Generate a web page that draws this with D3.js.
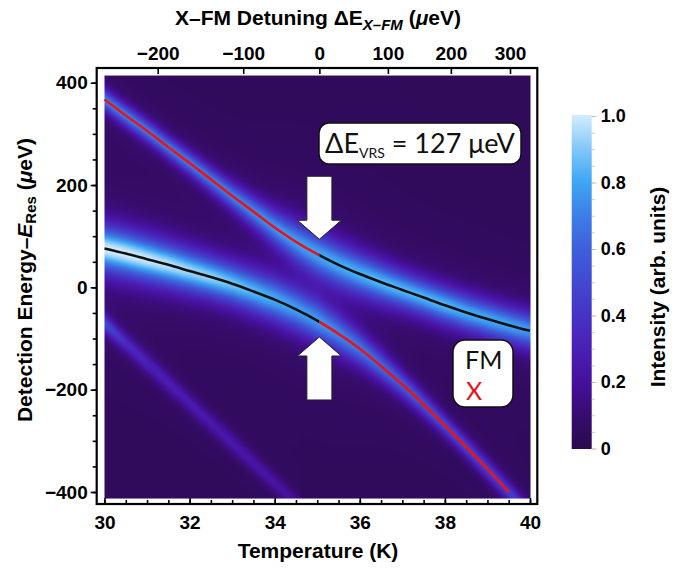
<!DOCTYPE html>
<html><head><meta charset="utf-8">
<script src="https://cdn.jsdelivr.net/npm/d3@7"></script>
<style>body{margin:0;background:#fff} svg{display:block}</style>
</head><body>
<svg id="chart" width="680" height="576"></svg>
<script>
// ---------------- data ----------------
const temps = [30,30.5,31,31.5,32,32.5,33,33.5,34,34.5,35,35.5,36,36.5,37,37.5,38,38.5,39,39.5,40];
const upperBranch = [367,336,306,274,243,211,179,148,117,89,65,44,26,10,-5,-20,-35,-49,-62,-74,-85];
const lowerBranch = [76,66,55,44,32,20,7,-8,-24,-43,-65,-91,-120,-154,-190,-229,-270,-312,-355,-400,-446];
const upperIntensity = [0.66,0.66,0.65,0.65,0.65,0.65,0.66,0.68,0.7,0.72,0.74,0.76,0.78,0.8,0.8,0.8,0.8,0.78,0.77,0.75,0.73];
const upperWidth = [18,18,18,18,19,20,22,25,29,34,37,37,35,33,31,30,30,30,30,30,30];
const lowerIntensity = [0.96,0.96,0.95,0.93,0.9,0.88,0.84,0.8,0.76,0.72,0.7,0.66,0.62,0.58,0.54,0.5,0.47,0.44,0.42,0.4,0.38];
const lowerWidth = [38,38,37,36,35,34,34,35,36,36,35,32,28,25,22,20,18,18,18,18,18];
const replicaTemps = [30,30.5,31,32,33,34,34.6];
const replicaEnergy = [-70,-109,-148,-226,-304,-382,-430];
const replicaIntensity = [0.45,0.3,0.25,0.22,0.21,0.18,0.16];
const replicaWidth = [16,17,18,18,18,18,18];
const lineEndTemp = 39.5;       // red lower line stops here
const crossTemp = 35.05;        // colour change (X <-> FM character)
const bottomTicks = [30,32,34,36,38,40];
const leftTicks = [-400,-200,0,200,400];
const detuningTicks = [-200,-100,0,100,200,300];
const detuningTickTemps = [31.25,33.26,35.05,36.66,38.14,39.53];
const colorbarTicks = [0,0.2,0.4,0.6,0.8,1.0];
const colorStopPos = [0,0.1,0.2,0.3,0.4,0.5,0.6,0.7,0.8,0.9,1.0];
const colorStopCol = ["#2a0a4c","#370c6e","#46109c","#4a1fb4","#4633c4","#4149d0","#3e60da","#3e7ee8","#3ea6f4","#82c8f8","#d4ecfc"];
const gapLabel = "127";
const arrowTips = [94,-97];

// ---------------- layout ----------------
const svg = d3.select("#chart");
const x = d3.scaleLinear().domain([30,40]).range([104.5,530]);
const y = d3.scaleLinear().domain([-400,400]).range([492,82.7]);
const frame = {x0:96.7, x1:537.3, y0:68, y1:504};
const heatE = [-412,414];
const font = "'Liberation Sans', Arial, sans-serif";

const cmap = d3.scaleLinear().domain(colorStopPos).range(colorStopCol).interpolate(d3.interpolateRgb).clamp(true);

// ---------------- heatmap ----------------
const uE = d3.scaleLinear().domain(temps).range(upperBranch);
const lE = d3.scaleLinear().domain(temps).range(lowerBranch);
const uA = d3.scaleLinear().domain(temps).range(upperIntensity);
const lA = d3.scaleLinear().domain(temps).range(lowerIntensity);
const uW = d3.scaleLinear().domain(temps).range(upperWidth);
const lW = d3.scaleLinear().domain(temps).range(lowerWidth);
const rE = d3.scaleLinear().domain(replicaTemps).range(replicaEnergy);
const rA = d3.scaleLinear().domain(replicaTemps).range(replicaIntensity);
const rW = d3.scaleLinear().domain(replicaTemps).range(replicaWidth);
function prof(u){ return 0.55*Math.exp(-0.693*u*u) + 0.45/(1+u*u); }

const hx0 = x(30), hx1 = x(40), hy0 = y(heatE[1]), hy1 = y(heatE[0]);
const W = Math.round(hx1-hx0), H = Math.round(hy1-hy0);
const cv = document.createElement("canvas"); cv.width = W; cv.height = H;
const ctx = cv.getContext("2d");
const img = ctx.createImageData(W,H);
for(let i=0;i<W;i++){
  const T = x.invert(hx0+i+0.5);
  const e1=uE(T), a1=uA(T), w1=uW(T), e2=lE(T), a2=lA(T), w2=lW(T);
  const hasR = T<=replicaTemps[replicaTemps.length-1];
  const e3=rE(T), a3=rA(T), w3=rW(T);
  for(let j=0;j<H;j++){
    const E = y.invert(hy0+j+0.5);
    let v = 0.04 + a1*prof((E-e1)/w1) + a2*prof((E-e2)/w2);
    if(hasR) v += a3*prof((E-e3)/w3);
    const c = d3.rgb(cmap(Math.min(1,v)));
    const k = (j*W+i)*4;
    img.data[k]=c.r; img.data[k+1]=c.g; img.data[k+2]=c.b; img.data[k+3]=255;
  }
}
ctx.putImageData(img,0,0);
svg.append("image").attr("x",hx0).attr("y",hy0).attr("width",W).attr("height",H)
  .attr("preserveAspectRatio","none").attr("href",cv.toDataURL());

// ---------------- lines ----------------
const defs = svg.append("defs");
defs.append("clipPath").attr("id","clipL").append("rect")
  .attr("x",0).attr("y",0).attr("width",x(crossTemp)).attr("height",576);
defs.append("clipPath").attr("id","clipR").append("rect")
  .attr("x",x(crossTemp)).attr("y",0).attr("width",680).attr("height",576);
const line = d3.line().x(d=>x(d[0])).y(d=>y(d[1])).curve(d3.curveCatmullRom);
const upPts = temps.map((t,i)=>[t,upperBranch[i]]);
const loPts = temps.map((t,i)=>[t,lowerBranch[i]]).filter(d=>d[0]<=lineEndTemp);
const lines = [
  {pts:upPts, clip:"clipL", col:"#e8141c"},
  {pts:upPts, clip:"clipR", col:"#111"},
  {pts:loPts, clip:"clipL", col:"#111"},
  {pts:loPts, clip:"clipR", col:"#e8141c"}
];
svg.selectAll("path.branch").data(lines).join("path").attr("class","branch")
  .attr("d",d=>line(d.pts)).attr("clip-path",d=>`url(#${d.clip})`)
  .attr("fill","none").attr("stroke",d=>d.col).attr("stroke-width",2.6);

// ---------------- arrows ----------------
function arrowPath(cx, tipY, dir){ // dir=+1 points down, -1 up
  const hw=22, sw=12.5, hh=19, sl=44;
  const b = tipY - dir*hh, e = b - dir*sl;
  return `M${cx},${tipY}L${cx+hw},${b}L${cx+sw},${b}L${cx+sw},${e}L${cx-sw},${e}L${cx-sw},${b}L${cx-hw},${b}Z`;
}
svg.append("path").attr("d",arrowPath(x(crossTemp), y(arrowTips[0]), 1))
  .attr("fill","#fff").attr("stroke","#222").attr("stroke-width",1);
svg.append("path").attr("d",arrowPath(x(crossTemp), y(arrowTips[1]), -1))
  .attr("fill","#fff").attr("stroke","#222").attr("stroke-width",1);

// ---------------- annotation boxes ----------------
const lab = svg.append("g").attr("font-family","Lato, 'Open Sans', sans-serif");
lab.append("rect").attr("x",319).attr("y",123).attr("width",202).attr("height",41).attr("rx",10)
  .attr("fill","#fff").attr("stroke","#111").attr("stroke-width",1.5);
const t1 = lab.append("text").attr("x",420).attr("y",153).attr("text-anchor","middle")
  .attr("font-size",27).attr("fill","#111");
t1.append("tspan").text("ΔE");
t1.append("tspan").attr("font-size",14).attr("dy",5).text("VRS");
t1.append("tspan").attr("dy",-5).text(` = ${gapLabel} μeV`);

lab.append("rect").attr("x",453).attr("y",340).attr("width",60).attr("height",67).attr("rx",12)
  .attr("fill","#fff").attr("stroke","#111").attr("stroke-width",1.5);
lab.append("text").attr("x",465).attr("y",369).attr("font-size",25).attr("fill","#111").text("FM");
lab.append("text").attr("x",466).attr("y",400).attr("font-size",25).attr("fill","#e8141c").text("X");

// ---------------- axes ----------------
function styleAxis(g, fs){
  g.select(".domain").remove();
  g.selectAll("line").attr("stroke","#000").attr("stroke-width",1.6);
  g.selectAll("text").attr("font-family",font).attr("font-weight","bold").attr("font-size",fs||19).attr("fill","#000");
}
const fmt = d => d3.format("")(d).replace("-","−");
// bottom
svg.append("g").attr("transform",`translate(0,${frame.y1})`)
  .call(d3.axisBottom(x).tickValues(d3.range(30,40.01,0.5)).tickSize(-4).tickFormat(""))
  .call(styleAxis);
svg.append("g").attr("transform",`translate(0,${frame.y1})`)
  .call(d3.axisBottom(x).tickValues(bottomTicks).tickSize(-6).tickPadding(12).tickFormat(d3.format("d")))
  .call(styleAxis);
// left
svg.append("g").attr("transform",`translate(${frame.x0},0)`)
  .call(d3.axisLeft(y).tickValues(d3.range(-400,401,50)).tickSize(4).tickFormat(""))
  .call(styleAxis);
svg.append("g").attr("transform",`translate(${frame.x0},0)`)
  .call(d3.axisLeft(y).tickValues(leftTicks).tickSize(6).tickPadding(3).tickFormat(fmt))
  .call(styleAxis);
// top (detuning)
const xTop = d3.scaleLinear().domain(detuningTicks).range(detuningTickTemps.map(x));
svg.append("g").attr("transform",`translate(0,${frame.y0})`)
  .call(d3.axisTop(xTop).tickValues(detuningTicks).tickSize(-6).tickPadding(8).tickFormat(fmt))
  .call(styleAxis);

// frame
svg.append("rect").attr("x",frame.x0).attr("y",frame.y0)
  .attr("width",frame.x1-frame.x0).attr("height",frame.y1-frame.y0)
  .attr("fill","none").attr("stroke","#000").attr("stroke-width",2.2);

// titles
const tt = svg.append("g").attr("font-family",font).attr("font-weight","bold").attr("font-size",21).attr("fill","#000");
const topTitle = tt.append("text").attr("x",318).attr("y",25).attr("text-anchor","middle");
topTitle.append("tspan").text("X–FM Detuning ΔE");
topTitle.append("tspan").attr("font-size",15).attr("font-style","italic").attr("dy",5).text("X–FM");
topTitle.append("tspan").attr("dy",-5).text(" (");
topTitle.append("tspan").attr("font-style","italic").text("μ");
topTitle.append("tspan").text("eV)");

tt.append("text").attr("x",318).attr("y",558).attr("text-anchor","middle").text("Temperature (K)");

const leftTitle = tt.append("text").attr("transform","translate(32,280) rotate(-90)").attr("text-anchor","middle");
leftTitle.append("tspan").text("Detection Energy–");
leftTitle.append("tspan").attr("font-style","italic").text("E");
leftTitle.append("tspan").attr("font-size",15).attr("dy",4).text("Res");
leftTitle.append("tspan").attr("dy",-4).text(" (");
leftTitle.append("tspan").attr("font-style","italic").text("μ");
leftTitle.append("tspan").text("eV)");

// ---------------- colorbar ----------------
const cb = {x:571.7, w:20, y0:115, y1:449};
const grad = defs.append("linearGradient").attr("id","cbg").attr("x1",0).attr("y1",1).attr("x2",0).attr("y2",0);
grad.selectAll("stop").data(colorStopPos).join("stop")
  .attr("offset",d=>d).attr("stop-color",(d,i)=>colorStopCol[i]);
svg.append("rect").attr("x",cb.x).attr("y",cb.y0).attr("width",cb.w).attr("height",cb.y1-cb.y0).attr("fill","url(#cbg)");
const cy = d3.scaleLinear().domain([0,1]).range([cb.y1-0.5,cb.y0+1]);
svg.append("g").attr("transform",`translate(${cb.x+cb.w},0)`)
  .call(d3.axisRight(cy).tickValues(d3.range(0,1.001,0.05)).tickSize(3).tickFormat(""))
  .call(g=>{g.select(".domain").remove(); g.selectAll("line").attr("stroke","#bbb").attr("stroke-width",0.8);});
svg.append("g").attr("transform",`translate(${cb.x+cb.w},0)`)
  .call(d3.axisRight(cy).tickValues(colorbarTicks).tickSize(5).tickPadding(4).tickFormat(d=>d===0?"0":d.toFixed(1)))
  .call(g=>styleAxis(g,18))
  .call(g=>g.selectAll("line").attr("stroke","#bbb").attr("stroke-width",0.8));
tt.append("text").attr("transform","translate(665,287) rotate(-90)").attr("text-anchor","middle").text("Intensity (arb. units)");
</script>
</body></html>
